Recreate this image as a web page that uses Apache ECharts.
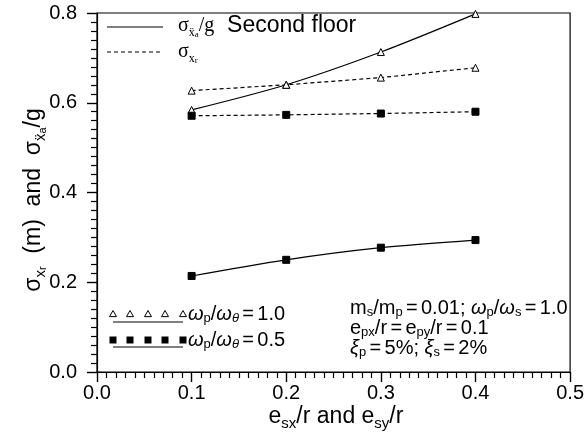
<!DOCTYPE html>
<html><head><meta charset="utf-8">
<script src="https://cdn.jsdelivr.net/npm/echarts@6/dist/echarts.min.js"></script>
<style>html,body{margin:0;padding:0;background:#fff}#wrap{position:relative;width:587px;height:439px}#c,#o{position:absolute;left:0;top:0;width:587px;height:439px}</style>
</head><body><div id="wrap"><div id="c"></div><div id="o"></div></div>
<script>
const xValues = [0.1, 0.2, 0.3, 0.4];
const accW10 = [0.584, 0.640, 0.713, 0.798];   // solid, triangles
const dispW10 = [0.627, 0.640, 0.656, 0.678];  // dashed, triangles
const dispW05 = [0.571, 0.573, 0.576, 0.580];  // dashed, squares
const accW05 = [0.214, 0.250, 0.277, 0.294];   // solid, squares
const xTicks = [0.0, 0.1, 0.2, 0.3, 0.4, 0.5];
const yTicks = [0.0, 0.2, 0.4, 0.6, 0.8];

const FF = "'Liberation Sans', Arial, sans-serif";
const SF = "'Liberation Serif', 'Times New Roman', serif";
const pairs = a => a.map((v, i) => [xValues[i], v]);
function fmt1(v) {
  let n = v;
  if (v !== null && typeof v === 'object') n = v.value;
  n = Number(n);
  return isFinite(n) ? n.toFixed(1) : String(v);
}
const rich = {
  n: {fontSize: 23, fontFamily: FF, color: '#000', lineHeight: 28},
  ns: {fontSize: 15, fontFamily: FF, color: '#000', lineHeight: 15, verticalAlign: 'bottom'},
  nss: {fontSize: 11, fontFamily: FF, color: '#000', lineHeight: 8, verticalAlign: 'bottom'},
  L: {fontSize: 23, fontFamily: FF, color: '#000', lineHeight: 26},
  g: {fontSize: 20, fontFamily: SF, color: '#000', lineHeight: 26},
  gs: {fontSize: 12, fontFamily: SF, color: '#000', lineHeight: 14, verticalAlign: 'bottom'},
  gss: {fontSize: 9, fontFamily: SF, color: '#000', lineHeight: 7, verticalAlign: 'bottom'},
  m: {fontSize: 20, fontFamily: FF, color: '#000', lineHeight: 22},
  mi: {fontSize: 20, fontFamily: FF, fontStyle: 'italic', color: '#000', lineHeight: 22},
  sp: {fontSize: 12, fontFamily: FF, color: '#000', lineHeight: 22},
  s: {fontSize: 13, fontFamily: FF, color: '#000', lineHeight: 12, verticalAlign: 'bottom'},
  si: {fontSize: 13, fontFamily: FF, fontStyle: 'italic', color: '#000', lineHeight: 12, verticalAlign: 'bottom'}
};

function triPts(cx, cy, r) {
  return [[cx, cy - r], [cx - r, cy + r * 0.75], [cx + r, cy + r * 0.75]];
}
const EQ = '{sp| }{m|=}{sp| }';
const graphics = [];
// axis titles
graphics.push({type: 'text', x: 336, y: 417, style: {text: '{n|e}{ns|sx}{n|/r and e}{ns|sy}{n|/r}', rich: rich, align: 'center', verticalAlign: 'middle'}});
graphics.push({type: 'text', x: 34, y: 200, rotation: Math.PI / 2, style: {text: '{n|σ}{ns|x}{nss|r}{n|  (m)  and  σ}{ns|ẍ}{nss|a}{n|/g}', rich: rich, align: 'center', verticalAlign: 'middle'}});
// top legend
graphics.push({type: 'line', shape: {x1: 107, y1: 27, x2: 163, y2: 27}, style: {stroke: '#000', lineWidth: 1.2}});
graphics.push({type: 'text', x: 178, y: 26, style: {text: '{g|σ}{gs|ẍ}{gss|a}{g|/g}{L|  Second floor}', rich: rich, verticalAlign: 'middle'}});
graphics.push({type: 'line', shape: {x1: 107, y1: 52, x2: 163, y2: 52}, style: {stroke: '#000', lineWidth: 1.2, lineDash: [4, 3]}});
graphics.push({type: 'text', x: 178, y: 52, style: {text: '{g|σ}{gs|x}{gss|r}', rich: rich, verticalAlign: 'middle'}});
// bottom-left legend
[113, 130, 148, 165, 183].forEach(x => {
  graphics.push({type: 'polygon', shape: {points: triPts(x, 314, 3.5)}, style: {fill: '#fff', stroke: '#000', lineWidth: 1}});
  graphics.push({type: 'rect', shape: {x: x - 3.5, y: 336.5, width: 7, height: 7}, style: {fill: '#000'}});
});
graphics.push({type: 'line', shape: {x1: 113, y1: 322, x2: 183, y2: 322}, style: {stroke: '#000', lineWidth: 1.2}});
graphics.push({type: 'line', shape: {x1: 113, y1: 347, x2: 183, y2: 347}, style: {stroke: '#000', lineWidth: 1.2}});
graphics.push({type: 'text', x: 188, y: 314, style: {text: '{mi|ω}{s|p}{m|/}{mi|ω}{si|θ}' + EQ + '{m|1.0}', rich: rich, verticalAlign: 'middle'}});
graphics.push({type: 'text', x: 188, y: 340, style: {text: '{mi|ω}{s|p}{m|/}{mi|ω}{si|θ}' + EQ + '{m|0.5}', rich: rich, verticalAlign: 'middle'}});
// bottom-right annotations
graphics.push({type: 'text', x: 350, y: 308, style: {text: '{m|m}{s|s}{m|/m}{s|p}' + EQ + '{m|0.01; }{mi|ω}{s|p}{m|/}{mi|ω}{s|s}' + EQ + '{m|1.0}', rich: rich, verticalAlign: 'middle'}});
graphics.push({type: 'text', x: 350, y: 328, style: {text: '{m|e}{s|px}{m|/r}' + EQ + '{m|e}{s|py}{m|/r}' + EQ + '{m|0.1}', rich: rich, verticalAlign: 'middle'}});
graphics.push({type: 'text', x: 350, y: 348, style: {text: '{mi|ξ}{s|p}' + EQ + '{m|5%; }{mi|ξ}{s|s}' + EQ + '{m|2%}', rich: rich, verticalAlign: 'middle'}});

const chart = echarts.init(document.getElementById('c'));
chart.setOption({
  animation: false,
  backgroundColor: '#fff',
  grid: {left: 97, right: 12, top: 13, bottom: 67, show: true, borderColor: '#000', borderWidth: 1.2, containLabel: false},
  xAxis: {
    type: 'value', min: xTicks[0], max: xTicks[xTicks.length - 1], interval: 0.1,
    axisLine: {show: true, onZero: false, lineStyle: {color: '#000', width: 1.2}},
    axisTick: {show: true, inside: false, length: 10, lineStyle: {color: '#000', width: 1.4}},
    minorTick: {show: true, splitNumber: 10, length: 6, lineStyle: {color: '#000', width: 1.2}},
    splitLine: {show: false},
    axisLabel: {color: '#000', fontSize: 20, fontFamily: FF, margin: 11, formatter: fmt1}
  },
  yAxis: {
    type: 'value', min: yTicks[0], max: yTicks[yTicks.length - 1], interval: 0.2,
    axisLine: {show: true, onZero: false, lineStyle: {color: '#000', width: 1.2}},
    axisTick: {show: true, inside: false, length: 10, lineStyle: {color: '#000', width: 1.4}},
    minorTick: {show: true, splitNumber: 10, length: 6, lineStyle: {color: '#000', width: 1.2}},
    splitLine: {show: false},
    axisLabel: {color: '#000', fontSize: 20, fontFamily: FF, margin: 20, formatter: fmt1}
  },
  series: [
    {type: 'line', data: pairs(accW10), smooth: 0.3, symbol: 'triangle', symbolSize: 7,
     lineStyle: {color: '#000', width: 1.2}, itemStyle: {color: '#fff', borderColor: '#000', borderWidth: 1}},
    {type: 'line', data: pairs(dispW10), symbol: 'triangle', symbolSize: 7,
     lineStyle: {color: '#000', width: 1.2, type: [4, 3]}, itemStyle: {color: '#fff', borderColor: '#000', borderWidth: 1}},
    {type: 'line', data: pairs(dispW05), symbol: 'rect', symbolSize: 7,
     lineStyle: {color: '#000', width: 1.2, type: [4, 3]}, itemStyle: {color: '#000', borderColor: '#000'}},
    {type: 'line', data: pairs(accW05), smooth: 0.3, symbol: 'rect', symbolSize: 7,
     lineStyle: {color: '#000', width: 1.2}, itemStyle: {color: '#000', borderColor: '#000'}}
  ]
});
const overlay = echarts.init(document.getElementById('o'));
overlay.setOption({animation: false, backgroundColor: 'transparent', graphic: graphics});
</script></body></html>
